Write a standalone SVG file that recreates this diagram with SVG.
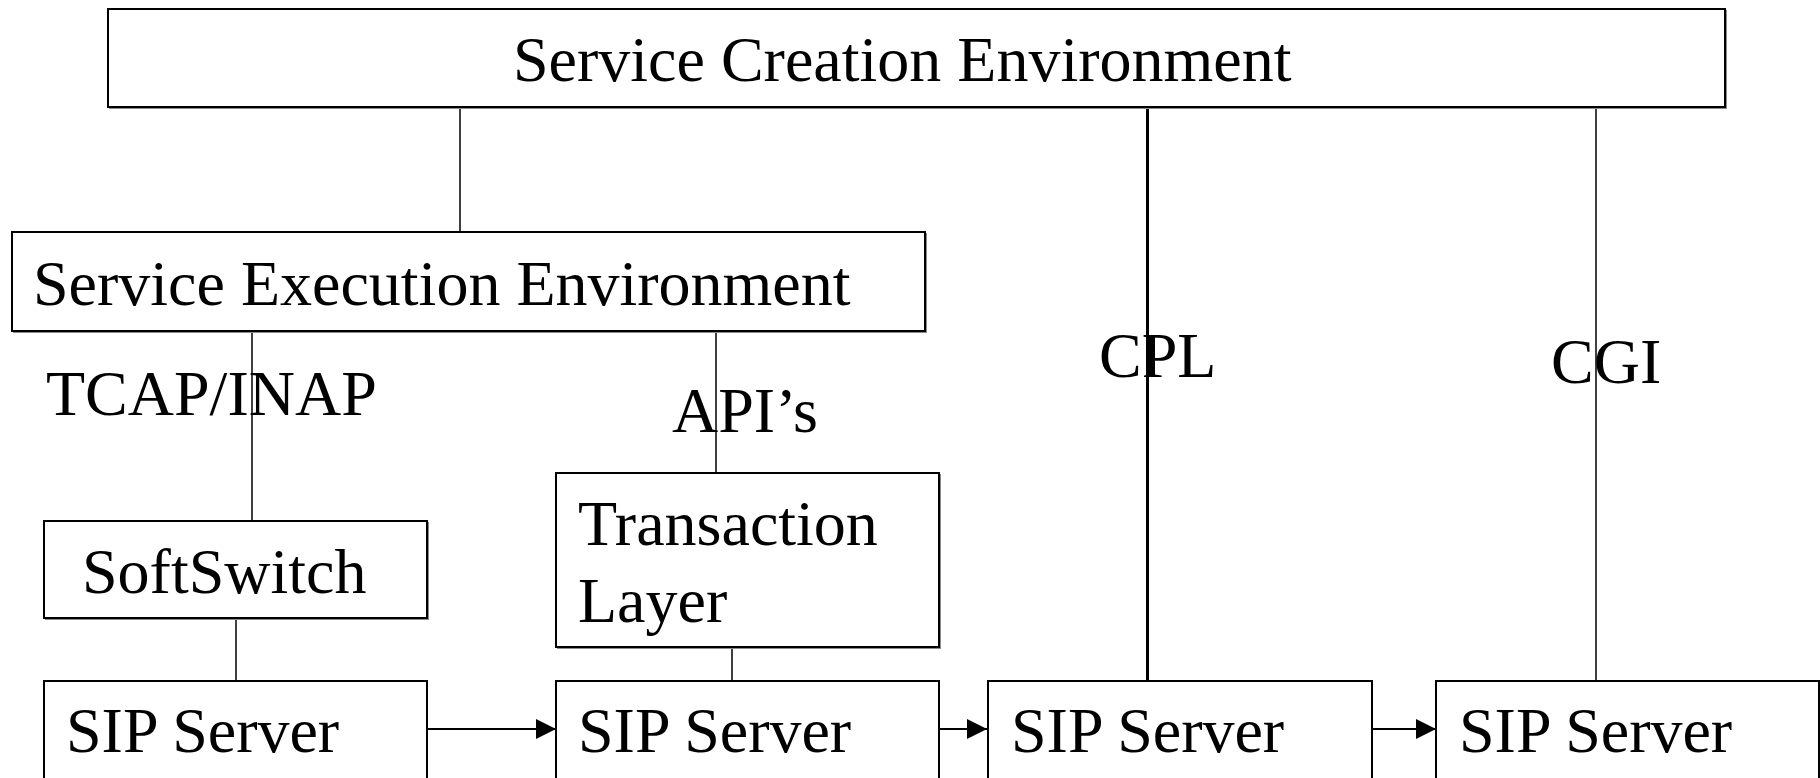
<svg xmlns="http://www.w3.org/2000/svg" width="1820" height="778" viewBox="0 0 1820 778">
<style>
.box{fill:#fff;stroke:#000;stroke-width:2}
.sh{fill:none;stroke:#8a8a8a;stroke-width:1}
.t{font-family:"Liberation Serif","Times New Roman",serif;font-size:64px;fill:#000}
.c{stroke:#000;stroke-width:1.5;fill:none}
.cb{stroke:#000;stroke-width:3;fill:none}
.a{stroke:#000;stroke-width:2;fill:none}
</style>
<defs>
<marker id="arr" markerWidth="20" markerHeight="20" refX="20" refY="10" orient="auto" markerUnits="userSpaceOnUse" viewBox="0 0 20 20">
<path d="M0,0 L20,10 L0,20 z" fill="#000"/>
</marker>
</defs>
<rect width="1820" height="778" fill="#fff"/>
<g id="connectors">
<line class="c" x1="460" y1="107" x2="460" y2="232"/>
<line class="c" x1="252" y1="331" x2="252" y2="521"/>
<line class="c" x1="716" y1="331" x2="716" y2="473"/>
<line class="c" x1="236" y1="619" x2="236" y2="681"/>
<line class="c" x1="732" y1="648" x2="732" y2="681"/>
<line class="cb" x1="1147.5" y1="107" x2="1147.5" y2="681"/>
<line class="c" x1="1596" y1="107" x2="1596" y2="681"/>
<line class="a" x1="428" y1="729" x2="556" y2="729" marker-end="url(#arr)"/>
<line class="a" x1="940" y1="729" x2="987" y2="729" marker-end="url(#arr)"/>
<line class="a" x1="1372" y1="729" x2="1436" y2="729" marker-end="url(#arr)"/>
</g>
<g id="sce"><rect class="sh" x="109.5" y="10.5" width="1617" height="98"/><rect class="box" x="108" y="9" width="1617" height="98"/><text class="t" x="513" y="81">Service Creation Environment</text></g>
<g id="see"><rect class="sh" x="13.5" y="233.5" width="913" height="99"/><rect class="box" x="12" y="232" width="913" height="99"/><text class="t" x="33" y="305">Service Execution Environment</text></g>
<g id="label-tcap"><text class="t" x="46" y="415">TCAP/INAP</text></g>
<g id="label-api"><text class="t" x="672" y="432">API’s</text></g>
<g id="label-cpl"><text class="t" x="1099" y="377">CPL</text></g>
<g id="label-cgi"><text class="t" x="1551" y="383">CGI</text></g>
<g id="softswitch"><rect class="sh" x="45.5" y="522.5" width="383" height="97"/><rect class="box" x="44" y="521" width="383" height="97"/><text class="t" x="82" y="593">SoftSwitch</text></g>
<g id="transaction"><rect class="sh" x="557.5" y="474.5" width="383" height="174"/><rect class="box" x="556" y="473" width="383" height="174"/><text class="t" x="578" y="545">Transaction</text><text class="t" x="578" y="622">Layer</text></g>
<g id="sip1"><rect class="box" x="44" y="681" width="383" height="120"/><text class="t" x="66" y="752">SIP Server</text></g>
<g id="sip2"><rect class="box" x="556" y="681" width="383" height="120"/><text class="t" x="578" y="752">SIP Server</text></g>
<g id="sip3"><rect class="box" x="988" y="681" width="384" height="120"/><text class="t" x="1011" y="752">SIP Server</text></g>
<g id="sip4"><rect class="box" x="1436" y="681" width="383" height="120"/><text class="t" x="1459" y="752">SIP Server</text></g>
</svg>
